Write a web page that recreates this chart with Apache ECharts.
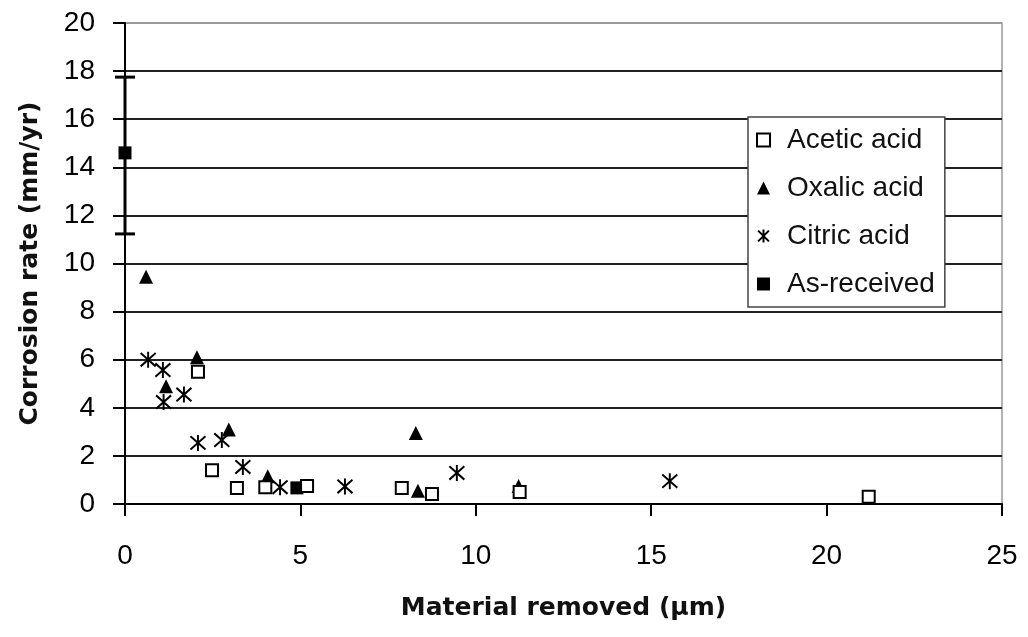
<!DOCTYPE html>
<html>
<head>
<meta charset="utf-8">
<script src="https://cdn.jsdelivr.net/npm/echarts@6/dist/echarts.min.js"></script>
<style>html,body{margin:0;padding:0;background:#fff;}#c{width:1028px;height:637px;}</style>
</head>
<body>
<div id="c"></div>
<script>
// ---- data ----
var aceticX = [2.08, 2.48, 3.19, 4.0, 5.19, 7.89, 8.75, 11.25, 21.2];
var aceticY = [5.5, 1.4, 0.67, 0.7, 0.75, 0.67, 0.42, 0.5, 0.3];
var oxalicX = [0.6, 1.17, 2.05, 2.96, 4.07, 8.29, 8.35, 11.22];
var oxalicY = [9.45, 4.9, 6.1, 3.1, 1.15, 2.95, 0.55, 0.75];
var citricX = [0.66, 1.08, 1.1, 1.68, 2.08, 2.76, 3.36, 4.42, 6.27, 9.46, 15.53];
var citricY = [6.0, 5.57, 4.24, 4.55, 2.54, 2.66, 1.54, 0.7, 0.73, 1.29, 0.95];
var asReceivedX = [0, 4.9];
var asReceivedY = [14.6, 0.67];
var errorBarX = 0;
var errorBarLow = 11.23;
var errorBarHigh = 17.75;
var seriesNames = ['Acetic acid', 'Oxalic acid', 'Citric acid', 'As-received'];
var xTitle = 'Material removed (\u00b5m)';
var yTitle = 'Corrosion rate (mm/yr)';

function pairs(xs, ys) { return xs.map(function (x, i) { return [x, ys[i]]; }); }

var asterisk = 'path://M0,1L10,11M10,1L0,11M5,0L5,12';

var chart = echarts.init(document.getElementById('c'));
chart.setOption({
  animation: false,
  backgroundColor: '#fff',
  grid: {
    left: 125, right: 26, top: 23, bottom: 133,
    show: true, borderColor: '#999', borderWidth: 1.5, backgroundColor: 'transparent'
  },
  legend: {
    data: seriesNames,
    orient: 'vertical',
    left: 748, top: 117,
    padding: [9, 10, 9, 8],
    itemGap: 20,
    itemWidth: 13, itemHeight: 13,
    backgroundColor: '#fff',
    borderColor: '#444', borderWidth: 1.5, borderRadius: 0,
    textStyle: { fontFamily: 'Liberation Sans', fontSize: 28, color: '#111', padding: [0, 0, 0, 12] }
  },
  xAxis: {
    type: 'value', min: 0, max: 25, interval: 5,
    name: xTitle, nameLocation: 'middle', nameGap: 92,
    nameTextStyle: { fontFamily: 'DejaVu Sans', fontWeight: 'bold', fontSize: 25, color: '#111' },
    axisLine: { lineStyle: { color: '#000', width: 2 } },
    axisTick: { show: true, inside: false, length: 12, lineStyle: { color: '#000', width: 2 } },
    axisLabel: { margin: 38, fontFamily: 'Liberation Sans', fontSize: 28, color: '#000' },
    splitLine: { show: false }
  },
  yAxis: {
    type: 'value', min: 0, max: 20, interval: 2,
    name: yTitle, nameLocation: 'middle', nameGap: 82,
    nameTextStyle: { fontFamily: 'DejaVu Sans', fontWeight: 'bold', fontSize: 25, color: '#111' },
    axisLine: { lineStyle: { color: '#000', width: 2 } },
    axisTick: { show: true, inside: false, length: 12, lineStyle: { color: '#000', width: 2 } },
    axisLabel: { margin: 30, fontFamily: 'Liberation Sans', fontSize: 28, color: '#000' },
    splitLine: { show: true, lineStyle: { color: ['#222','#222','#222','#222','#222','#222','#222','#222','#222','#222','#999'], width: 2 } }
  },
  series: [
    {
      name: 'errbar', type: 'line', data: [[errorBarX, errorBarLow], [errorBarX, errorBarHigh]],
      symbol: 'rect', symbolSize: [20, 3], showSymbol: true,
      lineStyle: { color: '#000', width: 3 }, itemStyle: { color: '#000' }, z: 3, silent: true
    },
    {
      name: seriesNames[3], type: 'scatter', data: pairs(asReceivedX, asReceivedY),
      symbol: 'rect', symbolSize: 13, itemStyle: { color: '#000', opacity: 1 }, z: 4
    },
    {
      name: seriesNames[1], type: 'scatter', data: pairs(oxalicX, oxalicY),
      symbol: 'triangle', symbolSize: 14, itemStyle: { color: '#000', opacity: 1 }, z: 5
    },
    {
      name: seriesNames[2], type: 'scatter', data: pairs(citricX, citricY),
      symbol: asterisk, symbolSize: [15, 16],
      itemStyle: { color: 'rgba(0,0,0,0)', borderColor: '#000', borderWidth: 2, opacity: 1 }, z: 6
    },
    {
      name: seriesNames[0], type: 'scatter', data: pairs(aceticX, aceticY),
      symbol: 'rect', symbolSize: 12,
      itemStyle: { color: '#fff', borderColor: '#000', borderWidth: 2, opacity: 1 }, z: 7
    }
  ]
});
</script>
</body>
</html>
